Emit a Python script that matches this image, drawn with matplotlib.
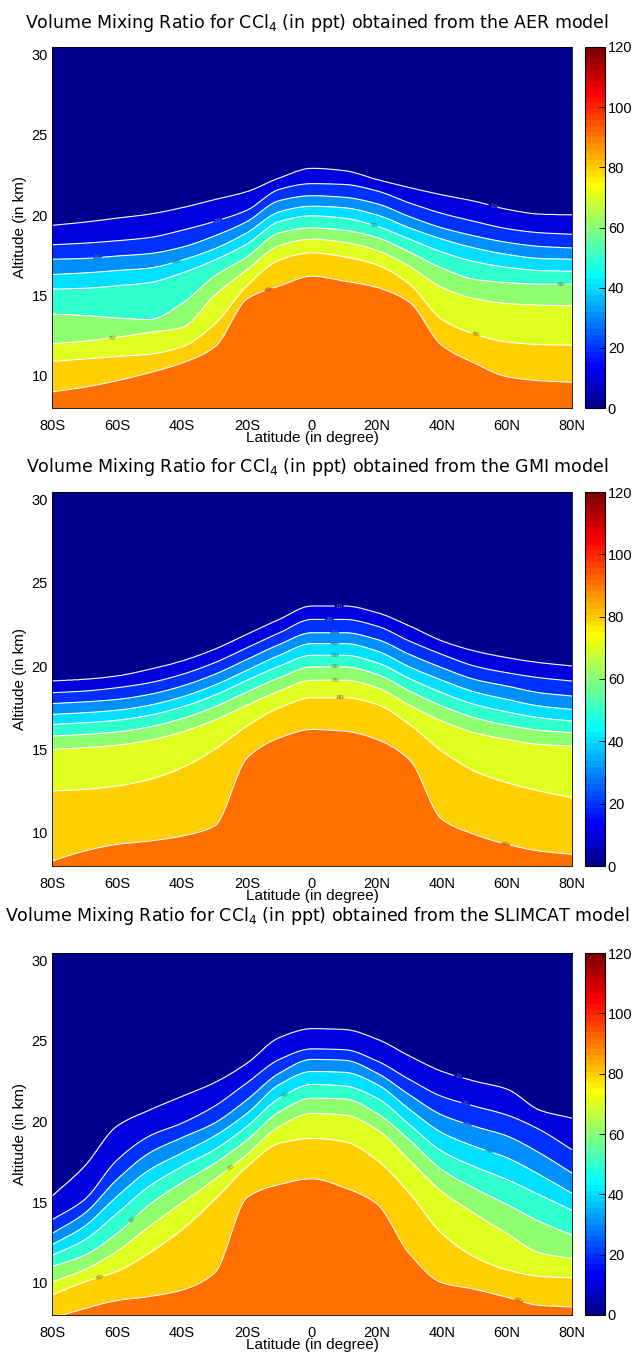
import numpy as np
import matplotlib
matplotlib.use('Agg')
import matplotlib.pyplot as plt
from matplotlib.colors import Normalize, ListedColormap
from matplotlib.cm import ScalarMappable

plt.rcParams['font.family'] = ['Liberation Sans', 'DejaVu Sans']
plt.rcParams['mathtext.fontset'] = 'custom'
plt.rcParams['mathtext.rm'] = 'DejaVu Sans'
plt.rcParams['mathtext.it'] = 'DejaVu Sans'
plt.rcParams['mathtext.default'] = 'regular'

# ---------------- data ----------------
latitudes = [-80, -70, -60, -50, -40, -30, -20, -10, 0, 10, 20, 30, 40, 50, 60, 70, 80]
contour_levels = [10, 20, 30, 40, 50, 60, 70, 80, 90]
lat_ticks = [-80, -60, -40, -20, 0, 20, 40, 60, 80]
lat_ticklabels = ['80S', '60S', '40S', '20S', '0', '20N', '40N', '60N', '80N']
alt_ticks = [10, 15, 20, 25, 30]
cbar_ticks = [0, 20, 40, 60, 80, 100, 120]
model_titles = ['AER', 'GMI', 'SLIMCAT']

# altitude (km) of each mixing-ratio contour (rows: 10..90 ppt) vs latitude
aer_heights = [
    [19.35, 19.55, 19.8, 20.05, 20.45, 20.95, 21.45, 22.3, 22.9, 22.75, 22.2, 21.7, 21.25, 20.85, 20.35, 20.05, 20.0],
    [18.15, 18.25, 18.4, 18.6, 19.05, 19.6, 20.3, 21.6, 21.95, 21.9, 21.5, 20.75, 20.1, 19.6, 19.15, 18.9, 18.8],
    [17.25, 17.3, 17.45, 17.6, 18.0, 18.7, 19.6, 20.9, 21.2, 21.1, 20.7, 19.9, 19.2, 18.7, 18.3, 18.05, 17.95],
    [16.3, 16.4, 16.55, 16.7, 17.2, 17.9, 18.9, 20.2, 20.55, 20.45, 20.0, 19.2, 18.5, 17.95, 17.55, 17.3, 17.25],
    [15.4, 15.45, 15.6, 15.8, 16.4, 17.2, 18.2, 19.6, 19.95, 19.8, 19.3, 18.5, 17.7, 17.1, 16.75, 16.55, 16.5],
    [13.85, 13.75, 13.6, 13.5, 14.5, 16.2, 17.4, 18.9, 19.2, 19.05, 18.6, 17.7, 16.7, 16.0, 15.8, 15.7, 15.7],
    [12.0, 12.15, 12.4, 12.7, 13.0, 15.0, 16.6, 18.1, 18.5, 18.3, 17.8, 16.8, 15.5, 14.8, 14.5, 14.4, 14.35],
    [10.9, 11.05, 11.2, 11.35, 11.8, 13.2, 15.6, 17.2, 17.65, 17.4, 16.9, 15.7, 13.5, 12.6, 12.1, 11.95, 11.9],
    [9.0, 9.3, 9.7, 10.2, 10.8, 11.8, 14.8, 15.6, 16.2, 15.9, 15.5, 14.6, 11.9, 10.8, 9.95, 9.7, 9.6],
]
gmi_heights = [
    [19.1, 19.2, 19.4, 19.8, 20.3, 21.0, 21.9, 22.8, 23.6, 23.6, 23.2, 22.4, 21.5, 20.9, 20.5, 20.2, 20.0],
    [18.4, 18.5, 18.7, 19.0, 19.5, 20.2, 21.1, 22.0, 22.8, 22.8, 22.4, 21.5, 20.7, 20.0, 19.6, 19.3, 19.1],
    [17.75, 17.85, 18.0, 18.3, 18.8, 19.5, 20.4, 21.3, 22.0, 22.0, 21.6, 20.7, 19.9, 19.2, 18.8, 18.4, 18.2],
    [17.1, 17.2, 17.35, 17.65, 18.15, 18.85, 19.75, 20.65, 21.35, 21.35, 20.9, 19.95, 19.15, 18.45, 18.0, 17.6, 17.4],
    [16.5, 16.6, 16.75, 17.05, 17.55, 18.25, 19.15, 20.0, 20.65, 20.65, 20.2, 19.25, 18.4, 17.7, 17.25, 16.9, 16.7],
    [15.8, 15.9, 16.05, 16.35, 16.85, 17.55, 18.45, 19.3, 19.95, 19.95, 19.5, 18.5, 17.6, 16.9, 16.45, 16.15, 16.0],
    [15.0, 15.1, 15.25, 15.55, 16.05, 16.75, 17.65, 18.5, 19.15, 19.15, 18.7, 17.65, 16.7, 16.0, 15.6, 15.3, 15.2],
    [12.5, 12.6, 12.8, 13.2, 13.9, 15.0, 16.4, 17.5, 18.1, 18.1, 17.7, 16.5, 14.9, 13.7, 13.0, 12.5, 12.1],
    [8.3, 8.9, 9.3, 9.5, 9.8, 10.4, 14.5, 15.7, 16.2, 16.1, 15.6, 14.4, 10.8, 9.9, 9.3, 8.9, 8.7],
]
slimcat_heights = [
    [15.35, 17.2, 19.7, 20.7, 21.55, 22.4, 23.6, 25.2, 25.75, 25.7, 25.1, 24.05, 23.1, 22.5, 22.0, 20.7, 20.2],
    [13.9, 15.15, 17.6, 19.1, 19.9, 20.95, 22.4, 23.85, 24.5, 24.45, 23.75, 22.6, 21.55, 20.95, 20.4, 19.5, 18.25],
    [13.05, 14.3, 16.4, 18.05, 19.0, 19.9, 21.35, 23.0, 23.85, 23.8, 23.0, 21.65, 20.4, 19.7, 19.1, 18.05, 16.8],
    [12.35, 13.5, 15.35, 17.0, 18.05, 19.1, 20.5, 22.3, 23.1, 23.05, 22.3, 20.75, 19.3, 18.45, 17.75, 16.7, 15.55],
    [11.7, 12.65, 14.3, 16.0, 17.2, 18.25, 19.7, 21.45, 22.3, 22.2, 21.45, 19.8, 18.15, 17.2, 16.4, 15.45, 14.5],
    [11.0, 11.7, 13.05, 14.85, 16.2, 17.4, 18.85, 20.6, 21.45, 21.4, 20.5, 18.85, 17.0, 15.85, 14.85, 13.8, 12.95],
    [10.05, 10.8, 11.95, 13.5, 14.95, 16.4, 17.95, 19.7, 20.5, 20.4, 19.5, 17.6, 15.65, 14.3, 13.05, 11.85, 11.5],
    [9.25, 10.05, 10.7, 11.85, 13.3, 15.15, 17.2, 18.65, 18.95, 18.75, 17.6, 15.55, 13.05, 11.6, 10.8, 10.4, 10.3],
    [7.8, 8.4, 8.9, 9.15, 9.55, 10.6, 15.3, 16.1, 16.45, 15.9, 14.9, 11.8, 10.0, 9.6, 9.1, 8.6, 8.5],
]
all_heights = [aer_heights, gmi_heights, slimcat_heights]

# ---------------- layout (pixels) ----------------
W, H = 635, 1352
panel_tops = [47, 492, 953]
panel_bottoms = [408, 866, 1315]
title_y = [23, 467, 916]
ax_left, ax_right = 52, 572
cb_left, cb_right = 585, 605


def matlab_jet(m=64):
    """MATLAB's jet(m) colour table."""
    n = int(np.ceil(m / 4))
    u = np.concatenate((np.arange(1, n + 1) / n, np.ones(n - 1), np.arange(n, 0, -1) / n))
    g = int(np.ceil(n / 2)) - (1 if m % 4 == 1 else 0) + np.arange(1, u.size + 1)
    r = g + n
    b = g - n
    tab = np.zeros((m, 3))
    for col, idx in ((0, r), (1, g), (2, b)):
        ok = (idx >= 1) & (idx <= m)
        tab[idx[ok] - 1, col] = u[ok]
    return ListedColormap(tab, name='matlab_jet')


def pchip(x, y, xi):
    """Shape-preserving piecewise cubic Hermite interpolation (smooth contour lines)."""
    x = np.asarray(x, float)
    y = np.asarray(y, float)
    h = np.diff(x)
    delta = np.diff(y) / h
    d = np.zeros_like(y)
    for k in range(1, len(x) - 1):
        if delta[k - 1] * delta[k] > 0:
            w1 = 2 * h[k] + h[k - 1]
            w2 = h[k] + 2 * h[k - 1]
            d[k] = (w1 + w2) / (w1 / delta[k - 1] + w2 / delta[k])
    d[0] = delta[0]
    d[-1] = delta[-1]
    idx = np.clip(np.searchsorted(x, xi) - 1, 0, len(x) - 2)
    t = (xi - x[idx]) / h[idx]
    h00 = 2 * t**3 - 3 * t**2 + 1
    h10 = t**3 - 2 * t**2 + t
    h01 = -2 * t**3 + 3 * t**2
    h11 = t**3 - t**2
    return h00 * y[idx] + h10 * h[idx] * d[idx] + h01 * y[idx + 1] + h11 * h[idx] * d[idx + 1]


fig = plt.figure(figsize=(W / 100, H / 100), dpi=100)
norm = Normalize(vmin=0, vmax=120)
cmap = matlab_jet(64)
# each filled band takes the colour of its lower bounding level (MATLAB style)
band_bounds = [0] + contour_levels + [100]
band_colors = [cmap(norm(v)) for v in band_bounds[:-1]]


def build_field(heights):
    hts = np.array(heights, float)
    lat_fine = np.linspace(latitudes[0], latitudes[-1], 481)
    hts_fine = np.array([pchip(latitudes, row, lat_fine) for row in hts])
    zgrid = np.linspace(6.5, 32.0, 1276)
    field = np.empty((zgrid.size, lat_fine.size))
    vals = np.concatenate(([100.0], np.array(contour_levels[::-1], float), [0.0]))
    for j in range(lat_fine.size):
        col = np.maximum.accumulate(hts_fine[::-1, j] + np.arange(9) * 1e-4)
        zs = np.concatenate(([6.0], col, [33.0]))
        field[:, j] = np.interp(zgrid, zs, vals)
    return lat_fine, zgrid, field


for i in range(3):
    top, bot = panel_tops[i], panel_bottoms[i]
    ax = fig.add_axes([ax_left / W, 1 - bot / H, (ax_right - ax_left) / W, (bot - top) / H])
    lat_fine, zgrid, field = build_field(all_heights[i])
    ax.contourf(lat_fine, zgrid, field, levels=band_bounds, colors=band_colors)
    cs = ax.contour(lat_fine, zgrid, field, levels=contour_levels,
                    colors='white', linewidths=0.8)
    ax.clabel(cs, fmt='%d', fontsize=4.5, colors='#707070', inline=True, inline_spacing=1)
    ax.set_xlim(-80, 80)
    ax.set_ylim(8.0, 30.45)
    ax.set_xticks(lat_ticks)
    ax.set_xticklabels(lat_ticklabels)
    ax.set_yticks(alt_ticks)
    ax.tick_params(length=0, labelsize=10.5)
    ax.tick_params(axis='x', pad=8)
    ax.tick_params(axis='y', pad=3)
    for s in ax.spines.values():
        s.set_linewidth(0.6)
    ax.set_xlabel('Latitude (in degree)', fontsize=11, labelpad=-1.5)
    ax.set_ylabel('Altitude (in km)', fontsize=11, labelpad=3)
    fig.text(317 / W, 1 - title_y[i] / H,
             'Volume Mixing Ratio for CCl$_4$ (in ppt) obtained from the %s model' % model_titles[i],
             ha='center', va='center', fontsize=12.5, family='DejaVu Sans')

    cax = fig.add_axes([cb_left / W, 1 - bot / H, (cb_right - cb_left) / W, (bot - top) / H])
    cb = fig.colorbar(ScalarMappable(norm=norm, cmap=cmap), cax=cax, ticks=cbar_ticks)
    cb.outline.set_linewidth(0.8)
    cax.tick_params(direction='in', length=4, width=0.7, labelsize=10.5, pad=2)

fig.savefig('out.png', dpi=100)
